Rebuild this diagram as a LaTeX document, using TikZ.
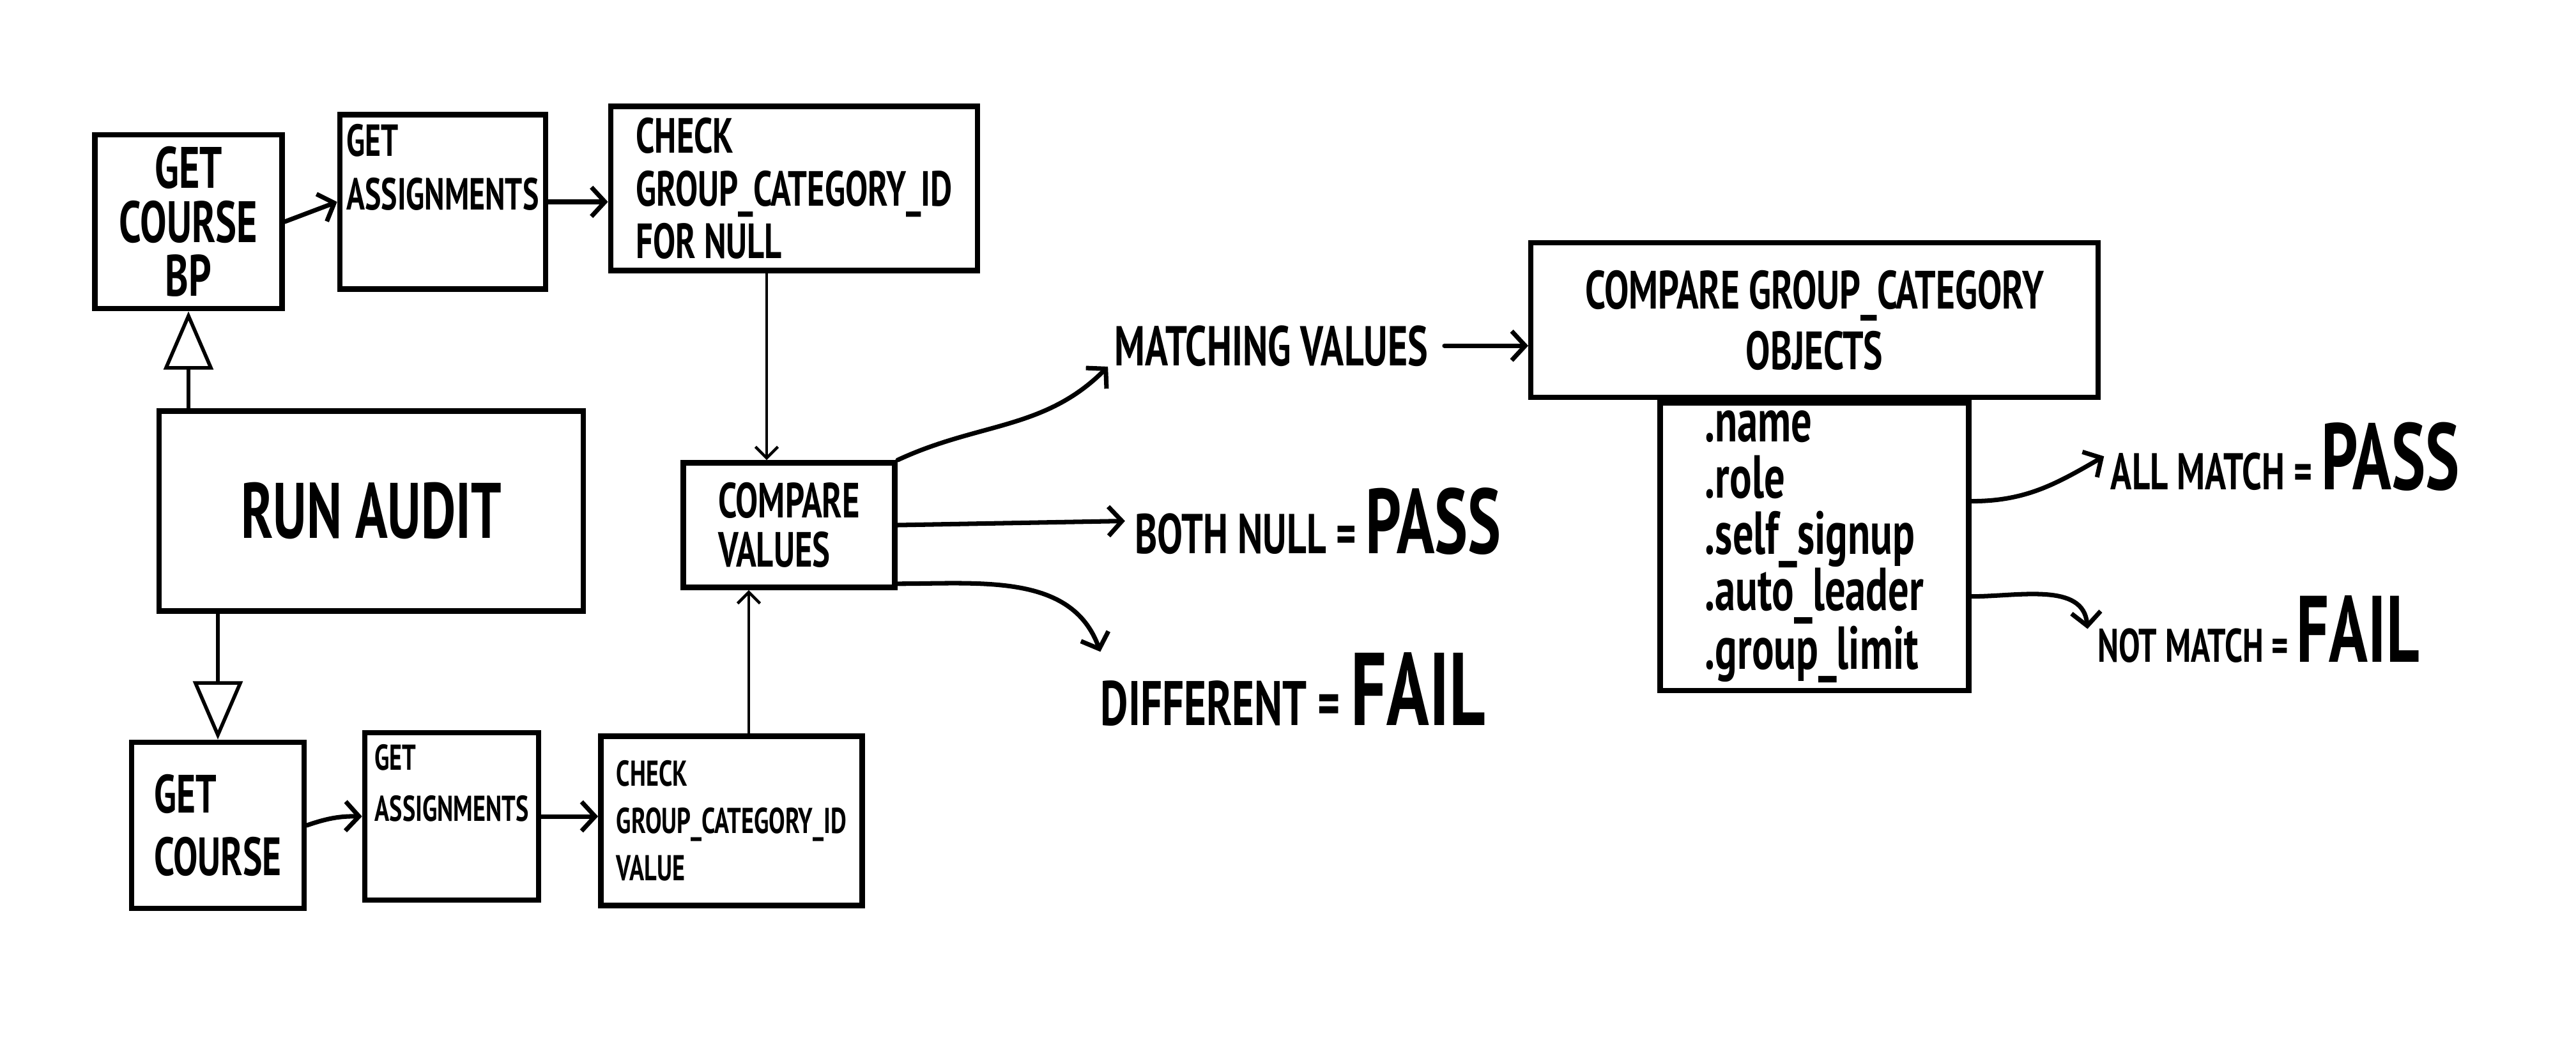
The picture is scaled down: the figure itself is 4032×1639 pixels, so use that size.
\documentclass[tikz,border=0pt]{standalone}
\usepackage{fontspec}
\setmainfont[FakeStretch=0.68]{PT Sans}
\usetikzlibrary{arrows.meta,positioning}
\newcommand{\fsz}[2]{\fontsize{#1}{#2}\selectfont\bfseries}
\tikzset{
  box/.style={draw, line width=2.4pt, align=left, inner sep=0pt},
  conn/.style={line width=2pt, -{Straight Barb[length=6pt,width=13pt]}},
  thinconn/.style={line width=1.3pt, -{Straight Barb[length=5pt,width=10pt]}},
  hollow/.style={line width=1.6pt, -{Triangle[open,length=26pt,width=22pt,line width=1.6pt]}},
  lbl/.style={inner sep=0pt, anchor=base},
}
\begin{document}
\begin{tikzpicture}[x=0.01cm,y=-0.01cm,line cap=round]
\useasboundingbox (0,0) rectangle (4032,1639);
% upper row
\node[box, align=center, minimum width=2.93cm, minimum height=2.72cm, font=\fsz{26}{24}] (bp) at (295,347) {GET\\COURSE\\BP};
\node[box, minimum width=3.22cm, minimum height=2.73cm, font=\fsz{20}{24}] (asg1) at (693,316) {GET\\ASSIGNMENTS\\\strut};
\node[box, minimum width=5.74cm, minimum height=2.57cm, font=\fsz{22}{23.5}] (chk1) at (1243,295) {CHECK\\GROUP\_CATEGORY\_ID\\FOR NULL};
% run audit
\node[box, align=center, minimum width=6.64cm, minimum height=3.13cm, font=\fsz{35}{35}] (run) at (581,800) {RUN AUDIT};
\node[box, minimum width=3.31cm, minimum height=1.95cm, font=\fsz{22}{22}] (cmpv) at (1235,822) {COMPARE\\VALUES};
% lower row
\node[box, minimum width=2.70cm, minimum height=2.60cm, font=\fsz{24}{28}] (crs) at (341,1292) {GET\\COURSE};
\node[box, minimum width=2.72cm, minimum height=2.62cm, font=\fsz{16}{23}] (asg2) at (707,1278) {GET\\ASSIGNMENTS\\\strut};
\node[box, minimum width=4.09cm, minimum height=2.65cm, font=\fsz{16}{21}] (chk2) at (1145,1285) {CHECK\\GROUP\_CATEGORY\_ID\\VALUE};
% object comparison
\node[box, align=center, minimum width=8.87cm, minimum height=2.42cm, font=\fsz{24}{27}] (cgo) at (2840,501) {COMPARE GROUP\_CATEGORY\\OBJECTS};
\node[box, minimum width=4.83cm, minimum height=4.50cm, font=\fsz{27}{25}, below=0pt of cgo] (flds) {.name\\.role\\.self\_signup\\.auto\_leader\\.group\_limit};
% outcomes
\node[lbl, font=\fsz{25}{25}] (match) at (1990,572) {MATCHING VALUES};
\node[lbl, font=\fsz{25}{25}] (both) at (2063,866) {BOTH NULL = {\fontsize{41}{41}\selectfont PASS}};
\node[lbl, font=\fsz{28}{28}] (diff) at (2024,1135) {DIFFERENT = {\fontsize{46}{46}\selectfont FAIL}};
\node[lbl, font=\fsz{23}{23}] (allm) at (3577,766) {ALL MATCH = {\fontsize{42}{42}\selectfont PASS}};
\node[lbl, font=\fsz{21}{21}] (notm) at (3535,1036) {NOT MATCH = {\fontsize{42}{42}\selectfont FAIL}};
% connectors
\draw[hollow] (run.north -| bp.south) -- (bp.south);
\draw[hollow] (run.south -| crs.north) -- (crs.north);
\draw[conn] (bp.east) -- (asg1.west);
\draw[conn] (asg1.east) -- (asg1.east -| chk1.west);
\draw[conn] (crs.east) to[bend left=10] (asg2.west);
\draw[conn] (asg2.east) -- (asg2.east -| chk2.west);
\draw[thinconn] ([xshift=-0.43cm]chk1.south) -- ([xshift=-0.43cm]chk1.south |- cmpv.north);
\draw[thinconn] ([xshift=0.27cm]chk2.north) -- ([xshift=0.27cm]chk2.north |- cmpv.south);
\draw[conn] (cmpv.north east) to[out=25,in=225] ([xshift=-0.1cm]match.south west);
\draw[conn] (cmpv.east) -- ([xshift=-0.15cm]both.west);
\draw[conn] ([yshift=0.1cm]cmpv.south east) to[out=0,in=110] (diff.north west);
\draw[conn] ([xshift=0.25cm]match.east) -- (match.east -| cgo.west);
\draw[conn] ([yshift=0.71cm]flds.east) to[out=0,in=210] ([xshift=-0.1cm]allm.west);
\draw[conn] ([yshift=-0.78cm]flds.east) to[out=0,in=95] ([xshift=-0.15cm]notm.west);
\end{tikzpicture}
\end{document}
